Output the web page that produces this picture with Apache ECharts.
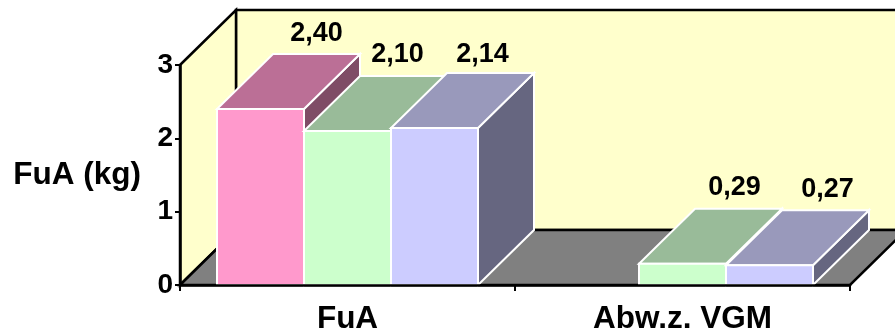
<!DOCTYPE html>
<html>
<head>
<meta charset="utf-8">
<style>html,body{margin:0;padding:0;background:#fff}#chart{width:895px;height:336px}</style>
<script src="https://cdn.jsdelivr.net/npm/echarts@6/dist/echarts.min.js"></script>
</head>
<body>
<div id="chart"></div>
<script>
// Feed-intake bars per group, drawn as extruded boxes.
const categories = ['FuA', 'Abw.z. VGM'];
const pinkValues = [2.40, null];
const greenValues = [2.10, 0.29];
const blueValues = [2.14, 0.27];
const yTicks = [0, 1, 2, 3];

const DEPTH_X = 56, DEPTH_Y = 55;
const BAR_SHARE = 87 / 335;
const FONT = '"Liberation Sans", Arial, sans-serif';
const VALUE_SIZE = 27, TICK_SIZE = 28, TITLE_SIZE = 31.5;

// Hand placement of the value labels relative to the rear top edge, per series and group.
const LABEL_SHIFT = [
  [[56, -20], null],
  [[50, -21], [52, -21]],
  [[48, -19], [58, -21]]
];

function poly(points, fill, stroke, lineWidth) {
  return {
    type: 'polygon',
    shape: { points },
    style: { fill, stroke, lineWidth, lineJoin: 'miter' }
  };
}

function extrude(p, dx, dy) { return [p[0] + dx, p[1] + dy]; }

// Back wall, side wall and floor of the box the bars stand in.
function renderRoom(params) {
  const r = params.coordSys;
  const x0 = r.x, x1 = r.x + r.width, yT = r.y, yB = r.y + r.height;
  const ink = '#000';
  return {
    type: 'group',
    children: [
      poly([[x0 + DEPTH_X, yT - DEPTH_Y], [x1 + DEPTH_X, yT - DEPTH_Y], [x1 + DEPTH_X, yB - DEPTH_Y], [x0 + DEPTH_X, yB - DEPTH_Y]], '#ffffcc', ink, 2.5),
      poly([[x0, yT], [x0 + DEPTH_X, yT - DEPTH_Y], [x0 + DEPTH_X, yB - DEPTH_Y], [x0, yB]], '#ffffcc', ink, 2.5),
      poly([[x0, yB], [x0 + DEPTH_X, yB - DEPTH_Y], [x1 + DEPTH_X, yB - DEPTH_Y], [x1, yB]], '#808080', ink, 2.5)
    ]
  };
}

// One box per value: side, top, front, with the value printed behind the top face.
function boxRenderer(slot, colors) {
  return function (params, api) {
    const value = api.value(1);
    if (value == null || isNaN(value)) return null;
    const cat = api.value(0);
    const catWidth = api.size([1, 0])[0];
    const w = catWidth * BAR_SHARE;
    const c = api.coord([cat, 0]);
    const left = c[0] + (slot - 1.5) * w;
    const bottom = c[1];
    const top = api.coord([cat, value])[1];
    const A = [left, bottom], B = [left + w, bottom], C = [left + w, top], D = [left, top];
    const white = '#fff';
    const shift = LABEL_SHIFT[slot][cat];
    return {
      type: 'group',
      children: [
        poly([B, extrude(B, DEPTH_X, -DEPTH_Y), extrude(C, DEPTH_X, -DEPTH_Y), C], colors.side, white, 2),
        poly([D, C, extrude(C, DEPTH_X, -DEPTH_Y), extrude(D, DEPTH_X, -DEPTH_Y)], colors.top, white, 2),
        poly([A, B, C, D], colors.front, white, 2),
        {
          type: 'text',
          z2: 10,
          style: {
            x: left + w / 2 + shift[0],
            y: top - DEPTH_Y + shift[1],
            text: value.toFixed(2).replace('.', ','),
            fill: '#000',
            font: 'bold ' + VALUE_SIZE + 'px ' + FONT,
            align: 'center',
            verticalAlign: 'middle'
          }
        }
      ]
    };
  };
}

function boxSeries(name, values, slot, colors) {
  return {
    name,
    type: 'custom',
    coordinateSystem: 'cartesian2d',
    clip: false,
    z: 3 + slot,
    renderItem: boxRenderer(slot, colors),
    encode: { x: 0, y: 1 },
    data: values.map((v, i) => [i, v])
  };
}

const chart = echarts.init(document.getElementById('chart'), null, { renderer: 'canvas' });
chart.setOption({
  animation: false,
  backgroundColor: '#fff',
  grid: { left: 180, top: 65, width: 670, height: 220, outerBoundsMode: 'none' },
  xAxis: {
    type: 'category',
    data: categories,
    z: 20,
    axisLine: { lineStyle: { color: '#000', width: 2.5 } },
    axisTick: { show: true, alignWithLabel: false, length: 6, lineStyle: { color: '#000', width: 2 } },
    axisLabel: { color: '#000', fontFamily: FONT, fontWeight: 'bold', fontSize: TITLE_SIZE, margin: 18 }
  },
  yAxis: {
    type: 'value',
    min: yTicks[0],
    max: yTicks[yTicks.length - 1],
    interval: 1,
    z: 20,
    name: 'FuA (kg)',
    nameLocation: 'middle',
    nameRotate: 0,
    nameGap: 39,
    nameTextStyle: { color: '#000', fontFamily: FONT, fontWeight: 'bold', fontSize: TITLE_SIZE, padding: [2, 0, 0, 0] },
    splitLine: { show: false },
    axisLine: { show: true, lineStyle: { color: '#000', width: 2.5 } },
    axisTick: { show: true, length: 5, lineStyle: { color: '#000', width: 2 } },
    axisLabel: { color: '#000', fontFamily: FONT, fontWeight: 'bold', fontSize: TICK_SIZE, margin: 7, padding: [7, 0, 0, 0] }
  },
  series: [
    { type: 'custom', coordinateSystem: 'cartesian2d', clip: false, z: 1, renderItem: renderRoom, data: [[0, 0]], silent: true },
    boxSeries('Serie 1', pinkValues, 0, { front: '#ff99cc', top: '#bb6f96', side: '#7f4c66' }),
    boxSeries('Serie 2', greenValues, 1, { front: '#ccffcc', top: '#99bb99', side: '#668066' }),
    boxSeries('Serie 3', blueValues, 2, { front: '#ccccff', top: '#9999bb', side: '#666680' })
  ]
});
</script>
</body>
</html>
